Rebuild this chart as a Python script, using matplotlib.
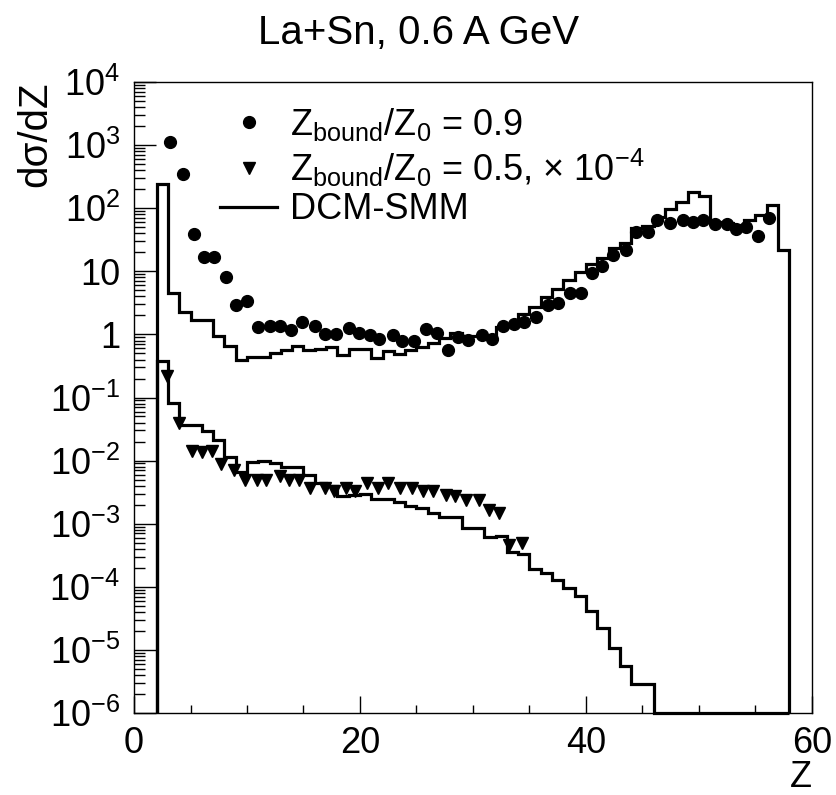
import numpy as np
import matplotlib
matplotlib.use("Agg")
import matplotlib.pyplot as plt
from matplotlib.lines import Line2D
from matplotlib.ticker import FixedLocator, FixedFormatter, MultipleLocator, NullFormatter

plt.rcParams['font.family'] = ['Liberation Sans', 'DejaVu Sans']
plt.rcParams['mathtext.fontset'] = 'custom'
plt.rcParams['mathtext.rm'] = 'Liberation Sans'
plt.rcParams['mathtext.it'] = 'Liberation Sans:italic'

# DCM-SMM histograms, bins of width 1 from Z=2 to Z=58
z_edges = np.arange(2, 59)
dcm_09 = [242, 4.48, 2.26, 1.69, 1.69, 0.96, 0.65, 0.40, 0.44, 0.44,
          0.51, 0.57, 0.65, 0.57, 0.58, 0.62, 0.47, 0.58, 0.58, 0.43,
          0.54, 0.49, 0.56, 0.62, 0.74, 0.87, 1.04, 0.94, 0.94, 0.94,
          1.30, 1.41, 2.1, 2.75, 3.95, 5.15, 7.2, 9.7, 13.0, 16.1,
          23.1, 27.7, 48, 52, 73, 96, 127, 183, 156, 60,
          58, 54, 65, 78, 112, 21.8]
# already scaled by 1e-4
dcm_05 = [0.383, 0.081, 0.0366, 0.0366, 0.0298, 0.0212, 0.0115, 0.0067, 0.0096, 0.0099,
          0.0091, 0.0080, 0.0080, 0.0059, 0.0044, 0.0039, 0.0027, 0.0028, 0.0030, 0.0025,
          0.0025, 0.0022, 0.0019, 0.0018, 0.0015, 0.0013, 0.0013, 0.00085, 0.00085, 0.00062,
          0.00064, 0.00036, 0.00033, 0.00019, 0.000164, 0.000128, 0.000096, 0.000071, 0.000042, 0.000022,
          1.06e-5, 5.6e-6, 2.9e-6, 2.9e-6, 0, 0, 0, 0, 0, 0,
          0, 0, 0, 0, 0, 0]

# measured points, Zbound/Z0 = 0.9
z_09 = [3.2, 4.3, 5.3, 6.2, 7.1, 8.1, 9.0, 10.0, 11.0, 12.0,
        12.9, 13.9, 14.9, 16.0, 16.9, 17.9, 19.0, 19.9, 20.9, 21.7,
        22.9, 23.7, 24.8, 25.8, 26.8, 27.8, 28.7, 29.6, 30.8, 31.7,
        32.7, 33.6, 34.5, 35.6, 36.6, 37.5, 38.6, 39.6, 40.5, 41.4,
        42.4, 43.5, 44.4, 45.5, 46.3, 47.4, 48.6, 49.5, 50.4, 51.4,
        52.5, 53.3, 54.2, 55.2, 56.2]
y_09 = [1130, 350, 39, 17, 17, 8.0, 2.9, 3.4, 1.30, 1.36,
        1.36, 1.17, 1.59, 1.36, 1.0, 1.0, 1.25, 1.06, 0.98, 0.85,
        0.98, 0.79, 0.79, 1.20, 1.04, 0.56, 0.90, 0.82, 0.98, 0.84,
        1.36, 1.46, 1.59, 1.91, 2.92, 3.18, 4.48, 4.48, 9.3, 12.1,
        18.1, 21.8, 42.5, 42.5, 65, 59, 65, 61, 65, 56,
        56, 46, 51, 36, 69]

# measured points, Zbound/Z0 = 0.5 (x 1e-4)
z_05 = [2.9, 4.0, 5.1, 6.0, 6.9, 7.7, 8.85, 9.8, 10.9, 11.7,
        12.9, 13.7, 14.6, 15.6, 16.9, 17.7, 18.8, 19.6, 20.6, 21.6,
        22.5, 23.5, 24.6, 25.6, 26.5, 27.6, 28.4, 29.4, 30.5, 31.4,
        32.3, 33.2, 34.3]
y_05 = [0.219, 0.039, 0.0142, 0.0137, 0.0142, 0.0087, 0.0070, 0.0049, 0.0049, 0.0049,
        0.0056, 0.0049, 0.0049, 0.0037, 0.0037, 0.0033, 0.0037, 0.0033, 0.0044, 0.0037,
        0.0044, 0.0037, 0.0037, 0.0033, 0.0033, 0.0029, 0.0027, 0.0024, 0.0024, 0.00165,
        0.00148, 0.00046, 0.00049]

ytick_vals = [1e4, 1e3, 1e2, 1e1, 1, 1e-1, 1e-2, 1e-3, 1e-4, 1e-5, 1e-6]
ytick_labels = [r'$\mathregular{10^{4}}$', r'$\mathregular{10^{3}}$', r'$\mathregular{10^{2}}$',
                '10', '1', r'$\mathregular{10^{-1}}$', r'$\mathregular{10^{-2}}$',
                r'$\mathregular{10^{-3}}$', r'$\mathregular{10^{-4}}$', r'$\mathregular{10^{-5}}$',
                r'$\mathregular{10^{-6}}$']

fig = plt.figure(figsize=(8.37, 7.95), dpi=100)
ax = fig.add_axes([0.1601, 0.1031, 0.8100, 0.7938])
ax.set_yscale('log')
ax.set_xlim(0, 60)
ax.set_ylim(1e-6, 1e4)

ymin = 1e-6
ax.stairs(dcm_09, z_edges, baseline=ymin, color='black', lw=2.3, clip_on=False)
ax.stairs(np.clip(dcm_05, ymin, None), z_edges, baseline=ymin, color='black', lw=2.3, clip_on=False)

ax.plot(z_09, y_09, 'o', color='black', ms=8.5, ls='none')
ax.plot(z_05, y_05, 'v', color='black', ms=8.5, ls='none')

# axes
for s in ax.spines.values():
    s.set_linewidth(1.0)
ax.yaxis.set_major_locator(FixedLocator(ytick_vals))
ax.yaxis.set_major_formatter(FixedFormatter(ytick_labels))
ax.yaxis.set_minor_locator(FixedLocator([m * 10.0 ** k for k in range(-6, 4) for m in range(2, 10)]))
ax.yaxis.set_minor_formatter(NullFormatter())
ax.xaxis.set_major_locator(MultipleLocator(20))
ax.xaxis.set_minor_locator(MultipleLocator(5))
ax.tick_params(axis='both', which='both', direction='in', width=1.0, labelsize=26)
ax.tick_params(axis='y', which='major', length=16, pad=10)
ax.tick_params(axis='y', which='minor', length=8)
ax.tick_params(axis='x', which='major', length=12, pad=9)
ax.tick_params(axis='x', which='minor', length=6)

ax.set_xlabel('Z', fontsize=26, loc='right')
ax.xaxis.set_label_coords(1.0, -0.075)
ax.set_ylabel('dσ/dZ', fontsize=29, loc='top')
ax.yaxis.set_label_coords(-0.117, 1.0)

fig.suptitle('La+Sn, 0.6 A GeV', fontsize=29, y=0.982)

handles = [Line2D([], [], marker='o', color='black', ls='none', ms=8.5),
           Line2D([], [], marker='v', color='black', ls='none', ms=8.5),
           Line2D([], [], color='black', lw=2.3)]
labels = [r'$\mathregular{Z_{bound}/Z_{0}}$ = 0.9',
          r'$\mathregular{Z_{bound}/Z_{0}}$ = 0.5, $\mathregular{\times\ 10^{-4}}$',
          'DCM-SMM']
ax.legend(handles, labels, loc='upper left', bbox_to_anchor=(0.127, 0.962),
          frameon=False, fontsize=26, handlelength=1.58, handletextpad=0.36,
          borderpad=0, borderaxespad=0, labelspacing=0.1)

fig.savefig('out.png', dpi=100)
